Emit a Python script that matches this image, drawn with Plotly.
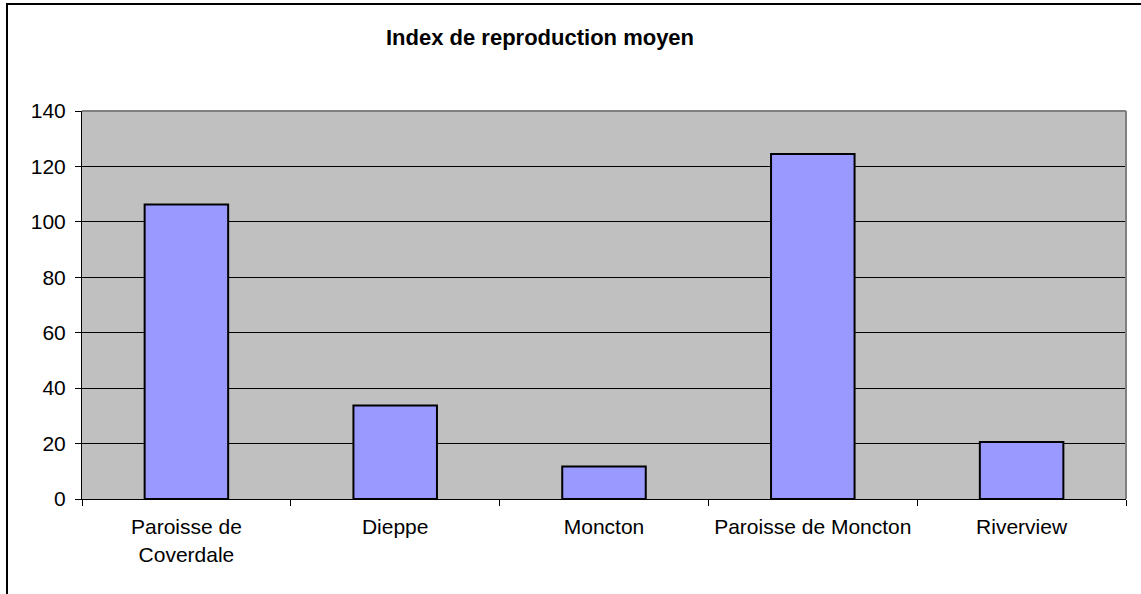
import plotly.graph_objects as go

categories = ["Paroisse de<br>Coverdale", "Dieppe", "Moncton", "Paroisse de Moncton", "Riverview"]
values = [106.3, 33.7, 11.7, 124.5, 20.6]
y_ticks = [0, 20, 40, 60, 80, 100, 120, 140]
title_text = "Index de reproduction moyen"

FONT = "Arial, Liberation Sans, sans-serif"

fig = go.Figure()
fig.add_trace(go.Bar(
    x=categories, y=values,
    marker=dict(color="#9999FF", line=dict(color="#000000", width=2)),
    showlegend=False,
))

W, H = 1141, 594
L, R, T, B = 82, 15, 111, 95
pw, ph = W - L - R, H - T - B

fig.update_layout(
    width=W, height=H,
    margin=dict(l=L, r=R, t=T, b=B),
    paper_bgcolor="white",
    plot_bgcolor="#C0C0C0",
    bargap=0.6,
    font=dict(family=FONT, size=21, color="black"),
)
fig.update_xaxes(
    showgrid=False, tickson="boundaries", ticks="outside", ticklen=6,
    tickcolor="black", showline=True, linecolor="black", linewidth=1,
    tickfont=dict(family=FONT, size=21, color="black"), ticklabelstandoff=9,
)
fig.update_yaxes(
    range=[0, 140], tickvals=y_ticks, ticks="outside", ticklen=6,
    tickcolor="black", showline=True, linecolor="black", linewidth=1,
    showgrid=True, gridcolor="black", gridwidth=1, zeroline=False,
    tickfont=dict(family=FONT, size=21, color="black"), ticklabelstandoff=5,
)
# gray plot-area border on top and right
fig.add_shape(type="line", xref="paper", yref="paper", x0=0, x1=1, y0=1, y1=1,
              line=dict(color="#808080", width=2))
fig.add_shape(type="line", xref="paper", yref="paper", x0=1, x1=1, y0=0, y1=1,
              line=dict(color="#808080", width=2))
# outer chart frame
fig.add_shape(type="rect", xref="paper", yref="paper",
              x0=(7 - L) / pw, x1=1.3, y0=-0.6, y1=(H - B - 4) / ph,
              line=dict(color="black", width=2), fillcolor="rgba(0,0,0,0)")
fig.add_annotation(
    text="<b>" + title_text + "</b>", xref="paper", yref="paper",
    x=(540 - L) / pw, y=(H - B - 37) / ph, xanchor="center", yanchor="middle",
    showarrow=False, font=dict(family=FONT, size=22, color="black"),
)

fig.write_html(
    "out.html",
    config={"displayModeBar": False},
    post_script="document.body.style.margin='0';document.body.style.overflow='hidden';",
)
